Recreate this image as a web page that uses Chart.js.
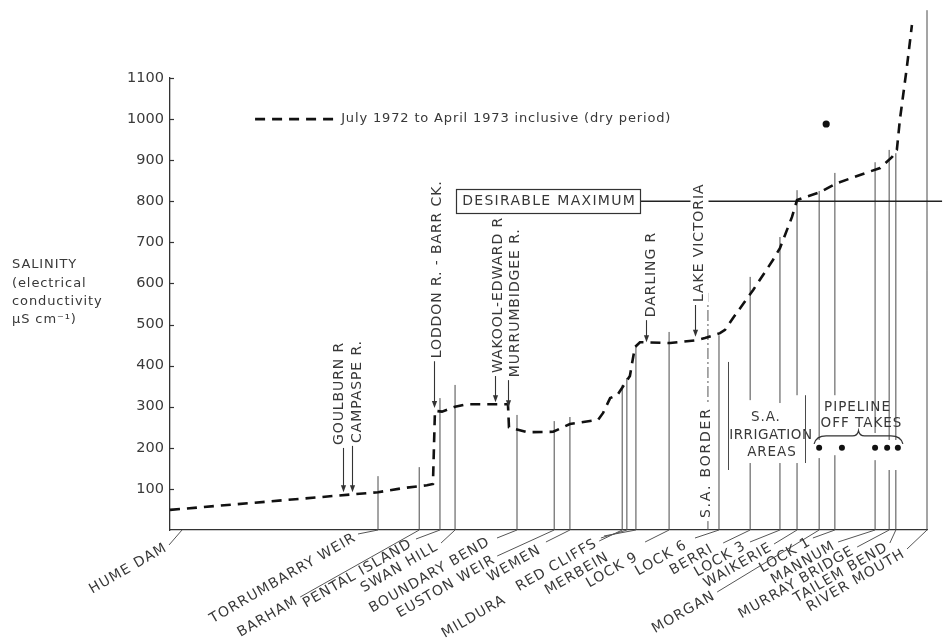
<!DOCTYPE html>
<html>
<head>
<meta charset="utf-8">
<title>Murray River salinity profile</title>
<script src="https://cdn.jsdelivr.net/npm/chart.js@4/dist/chart.umd.min.js"></script>
<style>
  html, body { margin: 0; padding: 0; background: #fff; }
  canvas { display: block; }
</style>
</head>
<body>
<canvas id="salinity" width="947" height="641"></canvas>
<script>
// ---- River stations, distance upstream from the Murray mouth (km) ----
const stationNames = ['HUME DAM', 'TORRUMBARRY WEIR', 'BARHAM', 'PENTAL ISLAND', 'SWAN HILL',
  'BOUNDARY BEND', 'EUSTON WEIR', 'WEMEN', 'RED CLIFFS', 'MILDURA', 'MERBEIN', 'LOCK 9',
  'LOCK 6', 'BERRI', 'LOCK 3', 'WAIKERIE', 'MORGAN', 'LOCK 1', 'MANNUM', 'MURRAY BRIDGE',
  'TAILEM BEND', 'RIVER MOUTH'];
const stationKm = [2260, 1639, 1516, 1454, 1409, 1224, 1113, 1066, 910, 896, 869, 770,
  621, 528, 439, 388, 322, 275, 155, 113, 93, 0];
// height of each station's reference line (µS/cm)
const stationLineTop = [0, 131, 153, 321, 353, 280, 265, 275, 353, 370, 450, 482,
  474, 616, 713, 827, 825, 869, 895, 925, 917, 1265];
// where a station line is interrupted by lettering (µS/cm), null = unbroken
const lineBreakLow = [null, null, null, null, null, null, null, null, null, null, null, null,
  null, 163, 163, 163, 175, 182, 170, 146, 146, null];
const lineBreakHigh = [null, null, null, null, null, null, null, null, null, null, null, null,
  null, 316, 309, 328, 219, 328, 236, 219, 219, null];

// ---- Salinity profile, July 1972 to April 1973 (dry period) ----
const profileKm = [2260, 1812, 1639, 1564, 1493, 1475, 1469, 1448, 1409, 1373, 1251, 1248,
  1194, 1116, 1066, 982, 967, 946, 925, 907, 887, 872, 857, 767, 687, 663, 618, 603, 579,
  519, 460, 439, 403, 388, 364, 319, 269, 200, 140, 104, 90, 81, 60, 45];
const profileEC = [49, 80, 92, 102, 109, 112, 290, 288, 300, 306, 306, 250,
  238, 239, 258, 268, 285, 321, 328, 350, 375, 445, 457, 455, 462, 467, 479, 487, 516,
  584, 657, 686, 762, 803, 810, 822, 844, 864, 881, 908, 925, 998, 1127, 1229];

// ---- Inflows and outflows marked with arrows ----
const inflowNames = ['GOULBURN R', 'CAMPASPE R.', 'LODDON R. - BARR CK.', 'WAKOOL-EDWARD R',
  'MURRUMBIDGEE R.', 'DARLING R', 'LAKE VICTORIA'];
const inflowKm = [1743, 1716, 1472, 1290, 1251, 839, 693];
const inflowTipEC = [92, 92, 297, 311, 299, 457, 470];
const inflowLabelFromEC = [207, 212, 418, 382, 372, 518, 555];

// ---- Pipeline off-takes and single high reading ----
const pipelineKm = [322, 254, 155, 119, 87];
const pipelineEC = [200, 200, 200, 200, 200];
const outlierKm = [301];
const outlierEC = [988];

const desirableMaxEC = 800;
const saBorderKm = 654;
const saBorderTopEC = 577;
const ecTicks = [100, 200, 300, 400, 500, 600, 700, 800, 900, 1000, 1100];

const legendText = 'July 1972 to April 1973 inclusive (dry period)';
const axisTitle = ['SALINITY', '(electrical', 'conductivity', '\u00B5S cm\u207B\u00B9)'];

// ---- layout of station lettering: text end (dx,dy) and leader start (dx,dy)
//      relative to the station foot, plus leader foot shift ----
const labelLayout = [
  [-4, 17, -1, 15, 12], [-23, 7, -20, 4, 0], [-122, 70, -119, 67, 0], [-29, 13, -24, 9, 0],
  [-18, 16, -14, 13, 0], [-28, 11, -20, 8, 0], [-60, 29, -57, 26, 0], [-30, 19, -24, 12, 0],
  [-26, 12.5, -23, 11, 0], [-122, 69, -26, 8, 0], [-28, 26, -32, 6, 0], [-32, 26, -24, 12, 0],
  [-33, 14, -24, 8, 0], [-38, 18, -27, 13, 0], [-35, 15, -30, 12, 0], [-26, 16.5, -23, 14, 0],
  [-105, 65, -102, 62, 0], [-25, 11, -22, 8, 0], [-41, 15, -37, 12, 0], [-36, 20, -32, 17, 0],
  [-9, 16.5, -6, 13, 0], [-23, 23, -20, 19, 0]
];
const inflowTextShift = [-4, 5, 3, 3, 7, 5, 4];

const INK = '#383838';
const LINE = '#4a4a4a';
const FAMILY = '"DejaVu Sans", sans-serif';
Chart.defaults.font.family = FAMILY;

// station reference lines, broken where lettering crosses them
const stationLinePts = [];
stationKm.forEach((km, i) => {
  if (!stationLineTop[i]) return;
  if (lineBreakLow[i] != null) {
    stationLinePts.push({ x: km, y: 0 }, { x: km, y: lineBreakLow[i] }, { x: km, y: null });
    stationLinePts.push({ x: km, y: lineBreakHigh[i] }, { x: km, y: stationLineTop[i] }, { x: km, y: null });
  } else {
    stationLinePts.push({ x: km, y: 0 }, { x: km, y: stationLineTop[i] }, { x: km, y: null });
  }
});

const profilePts = profileKm.map((km, i) => ({ x: km, y: profileEC[i] }));
const pipelinePts = pipelineKm.map((km, i) => ({ x: km, y: pipelineEC[i] }));
const outlierPts = outlierKm.map((km, i) => ({ x: km, y: outlierEC[i] }));

// box centre for the "desirable maximum" tag
const desirableTagKm = 1131;

function drawText(ctx, s, x, y, o = {}) {
  ctx.save();
  ctx.translate(x, y);
  if (o.rot) ctx.rotate(o.rot);
  ctx.font = o.font || ('13px ' + FAMILY);
  ctx.letterSpacing = (o.ls != null ? o.ls : 1) + 'px';
  ctx.textAlign = o.align || 'left';
  ctx.textBaseline = 'middle';
  if (o.bg) {
    const w = ctx.measureText(s).width;
    const h = o.bgH || 16;
    const x0 = o.align === 'right' ? -w : (o.align === 'center' ? -w / 2 : 0);
    ctx.fillStyle = '#fff';
    ctx.fillRect(x0 - 3, -h / 2, w + 6, h);
  }
  ctx.fillStyle = o.color || INK;
  ctx.fillText(s, 0, 0);
  ctx.restore();
}

const annotations = {
  id: 'annotations',
  afterDatasetsDraw(chart) {
    const { ctx, chartArea: ca, scales } = chart;
    const X = v => scales.x.getPixelForValue(v);
    const Y = v => scales.y.getPixelForValue(v);
    const base = Y(0);
    ctx.save();

    // y-axis ticks pointing into the plot
    ctx.strokeStyle = '#333';
    ctx.lineWidth = 1.2;
    ecTicks.forEach(v => {
      ctx.beginPath();
      ctx.moveTo(ca.left, Math.round(Y(v)) + 0.5);
      ctx.lineTo(ca.left + 4, Math.round(Y(v)) + 0.5);
      ctx.stroke();
    });

    // axis title
    axisTitle.forEach((t, i) => drawText(ctx, t, 12, Y(645) + i * 18.3, { font: '13px ' + FAMILY, ls: 0.9 }));

    // legend
    const ly = Y(1000);
    ctx.strokeStyle = '#111';
    ctx.lineWidth = 2.6;
    ctx.setLineDash([10, 7]);
    ctx.beginPath();
    ctx.moveTo(X(2006), ly);
    ctx.lineTo(X(1761), ly);
    ctx.stroke();
    ctx.setLineDash([]);
    drawText(ctx, legendText, X(1749), ly, { font: '13px ' + FAMILY, ls: 0.85 });

    // desirable maximum tag
    {
      const cx = X(desirableTagKm), cy = Y(desirableMaxEC);
      ctx.font = '14px ' + FAMILY;
      ctx.letterSpacing = '1.3px';
      const w = ctx.measureText('DESIRABLE MAXIMUM').width + 10;
      ctx.fillStyle = '#fff';
      ctx.fillRect(cx - w / 2, cy - 12, w, 24);
      ctx.strokeStyle = '#333';
      ctx.lineWidth = 1.2;
      ctx.strokeRect(Math.round(cx - w / 2) + 0.5, Math.round(cy - 12) + 0.5, Math.round(w), 24);
      drawText(ctx, 'DESIRABLE MAXIMUM', cx + 1, cy + 0.5, { font: '14px ' + FAMILY, ls: 1.3, align: 'center' });
    }

    // inflow / outflow arrows with upright lettering
    ctx.strokeStyle = '#333';
    ctx.fillStyle = '#333';
    ctx.lineWidth = 1.1;
    inflowNames.forEach((name, i) => {
      const ax = Math.round(X(inflowKm[i])) + 0.5;
      const y0 = Y(inflowLabelFromEC[i]) + 3;
      const tip = Y(inflowTipEC[i]);
      ctx.beginPath();
      ctx.moveTo(ax, y0);
      ctx.lineTo(ax, tip - 5);
      ctx.stroke();
      ctx.beginPath();
      ctx.moveTo(ax - 2.6, tip - 7);
      ctx.lineTo(ax + 2.6, tip - 7);
      ctx.lineTo(ax, tip);
      ctx.closePath();
      ctx.fill();
      drawText(ctx, name, ax + inflowTextShift[i], Y(inflowLabelFromEC[i]), {
        rot: -Math.PI / 2, ls: 0.9, font: '14px ' + FAMILY, bg: i === 6, bgH: 18
      });
    });

    // state border lettering
    drawText(ctx, 'S.A. BORDER', X(saBorderKm) - 2, Y(29), { rot: -Math.PI / 2, ls: 1.8, font: '14px ' + FAMILY, bg: true, bgH: 16 });

    // irrigation areas block with side bars
    {
      const cx = X(469), cy = Y(231);
      drawText(ctx, 'S.A.', cx - 4, cy - 18, { align: 'center', ls: 0.9, font: '13.5px ' + FAMILY });
      drawText(ctx, 'IRRIGATION', cx + 1, cy, { align: 'center', ls: 0.5, font: '13.5px ' + FAMILY });
      drawText(ctx, 'AREAS', cx + 2, cy + 17, { align: 'center', ls: 0.9, font: '13.5px ' + FAMILY });
      ctx.strokeStyle = LINE;
      ctx.lineWidth = 1;
      const lx = Math.round(X(594)) + 0.5, rx = Math.round(X(364)) + 0.5;
      ctx.beginPath();
      ctx.moveTo(lx, Y(409)); ctx.lineTo(lx, Y(146));
      ctx.moveTo(rx, Y(328)); ctx.lineTo(rx, Y(163));
      ctx.stroke();
    }

    // pipeline off-takes: lettering and brace over the dots
    {
      const x0 = X(pipelineKm[0]) - 5, x1 = X(pipelineKm[pipelineKm.length - 1]) + 5;
      const by = Y(pipelineEC[0]) - 12;
      const mx = (x0 + x1) / 2;
      ctx.strokeStyle = '#333';
      ctx.lineWidth = 1.3;
      ctx.beginPath();
      ctx.moveTo(x0, by + 8);
      ctx.quadraticCurveTo(x0 + 2, by, x0 + 12, by);
      ctx.lineTo(mx - 6, by);
      ctx.quadraticCurveTo(mx - 1, by, mx, by - 5);
      ctx.quadraticCurveTo(mx + 1, by, mx + 6, by);
      ctx.lineTo(x1 - 12, by);
      ctx.quadraticCurveTo(x1 - 2, by, x1, by + 8);
      ctx.stroke();
      drawText(ctx, 'PIPELINE', mx - 1, by - 28, { align: 'center', ls: 1, font: '13.5px ' + FAMILY });
      drawText(ctx, 'OFF TAKES', mx + 3, by - 12, { align: 'center', ls: 1, font: '13.5px ' + FAMILY });
    }

    // station names along the foot of the diagram, with leaders
    ctx.strokeStyle = '#555';
    ctx.lineWidth = 1;
    stationNames.forEach((name, i) => {
      const sx = X(stationKm[i]);
      const [tdx, tdy, ldx, ldy, shift] = labelLayout[i];
      ctx.beginPath();
      ctx.moveTo(sx + ldx, base + ldy);
      ctx.lineTo(sx + shift, base);
      ctx.stroke();
      drawText(ctx, name, sx + tdx, base + tdy, { rot: -Math.PI / 6, align: 'right', ls: 1.1, font: '14px ' + FAMILY });
    });

    ctx.restore();
  }
};

new Chart(document.getElementById('salinity'), {
  type: 'line',
  data: {
    datasets: [
      { label: 'outlier', data: outlierPts, showLine: false, pointRadius: 3.6, pointBackgroundColor: '#111',
        pointBorderWidth: 0, clip: false, order: 0 },
      { label: 'pipeline off takes', data: pipelinePts, showLine: false, pointRadius: 3, pointBackgroundColor: '#111',
        pointBorderWidth: 0, clip: false, order: 0 },
      { label: legendText, data: profilePts, borderColor: '#111', borderWidth: 2.6, borderDash: [10, 7],
        pointRadius: 0, tension: 0, clip: false, order: 1 },
      { label: 'desirable maximum', data: [{ x: desirableTagKm, y: desirableMaxEC }, { x: -45, y: desirableMaxEC }],
        borderColor: '#222', borderWidth: 1.5, pointRadius: 0, clip: false, order: 2 },
      { label: 'S.A. border', data: [{ x: saBorderKm, y: 0 }, { x: saBorderKm, y: saBorderTopEC }],
        borderColor: '#555', borderWidth: 1, borderDash: [11, 3, 2, 3], pointRadius: 0, clip: false, order: 3 },
      { label: 'stations', data: stationLinePts, borderColor: LINE, borderWidth: 1, pointRadius: 0,
        spanGaps: false, clip: false, order: 4 }
    ]
  },
  options: {
    responsive: false,
    animation: false,
    devicePixelRatio: 1,
    events: [],
    layout: { padding: { top: 78, right: 20, left: 0, bottom: 0 } },
    plugins: { legend: { display: false }, tooltip: { enabled: false } },
    scales: {
      x: {
        type: 'linear', reverse: true, min: 0, max: 2260,
        afterFit: s => { s.height = 111; },
        ticks: { display: false },
        grid: { drawOnChartArea: false, drawTicks: false },
        border: { display: true, color: '#333', width: 1.3 }
      },
      y: {
        type: 'linear', min: 0, max: 1100,
        afterFit: s => { s.width = 170; },
        afterBuildTicks: s => { s.ticks = ecTicks.map(v => ({ value: v })); },
        ticks: { color: '#3a3a3a', font: { size: 14.5, family: FAMILY }, padding: 6, callback: v => String(v) },
        grid: { drawOnChartArea: false, drawTicks: false },
        border: { display: true, color: '#333', width: 1.3 }
      }
    }
  },
  plugins: [annotations]
});
</script>
</body>
</html>
